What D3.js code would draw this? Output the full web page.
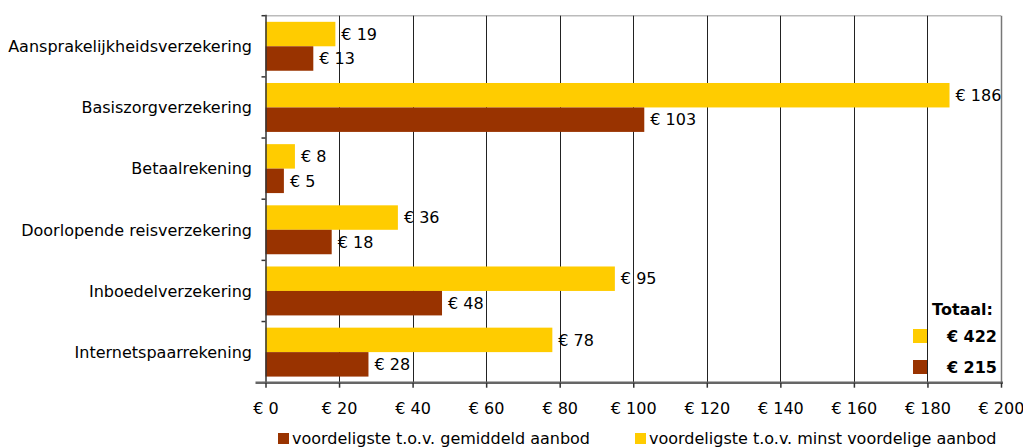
<!DOCTYPE html>
<html><head><meta charset="utf-8">
<script src="https://cdn.jsdelivr.net/npm/d3@7"></script>
<style>
body{margin:0;background:#fff;}
svg text{font-family:"DejaVu Sans",Verdana,sans-serif;fill:#000;}
</style></head>
<body><svg id="c" width="1023" height="448"></svg>
<script>
const categories = ["Aansprakelijkheidsverzekering","Basiszorgverzekering","Betaalrekening","Doorlopende reisverzekering","Inboedelverzekering","Internetspaarrekening"];
const seriesNames = ["voordeligste t.o.v. minst voordelige aanbod","voordeligste t.o.v. gemiddeld aanbod"];
const minstValues = [19,186,8,36,95,78];
const gemiddeldValues = [13,103,5,18,48,28];
const xTicks = [0,20,40,60,80,100,120,140,160,180,200];
const totalsTitle = "Totaal:";
const totals = [422,215];
const colors = ["#FFCC00","#993300"];

const svg = d3.select("#c");
const L=265.5, R=1001, T=15.7, B=382.7;
const x = d3.scaleLinear().domain([0,200]).range([L,R]);
const y0 = d3.scaleBand().domain(categories).range([T,B]).padding(0);
const y1 = d3.scaleBand().domain(seriesNames).range([0,y0.bandwidth()]).paddingInner(0).paddingOuter(0.25);
const eur = v => "€ " + v;
const fs = 16;

// top border
svg.append("line").attr("x1",L).attr("x2",R).attr("y1",T).attr("y2",T).attr("stroke","#bbb").attr("stroke-width",1.5);
// gridlines
svg.selectAll(".grid").data(xTicks.filter(d=>d>0)).enter().append("line")
  .attr("x1",d=>Math.round(x(d))+0.5).attr("x2",d=>Math.round(x(d))+0.5)
  .attr("y1",T).attr("y2",B)
  .attr("stroke",d=>d===200?"#777":"#222").attr("stroke-width",d=>d===200?1.5:1);

const data = categories.map((c,i)=>({c, vals:[minstValues[i],gemiddeldValues[i]]}));
const g = svg.selectAll(".cat").data(data).enter().append("g").attr("transform",d=>`translate(0,${y0(d.c)})`);
g.selectAll("rect").data(d=>d.vals.map((v,j)=>({v,s:seriesNames[j],j}))).enter().append("rect")
  .attr("x",x(0)).attr("y",d=>y1(d.s)).attr("width",d=>x(d.v)-x(0)).attr("height",y1.bandwidth())
  .attr("fill",d=>colors[d.j]);
g.selectAll("text.val").data(d=>d.vals.map((v,j)=>({v,s:seriesNames[j],j}))).enter().append("text")
  .attr("class","val").attr("x",d=>x(d.v)+6).attr("y",d=>y1(d.s)+y1.bandwidth()/2).attr("dy","0.36em")
  .attr("font-size",fs).text(d=>eur(d.v));

// category labels
svg.selectAll(".clab").data(categories).enter().append("text")
  .attr("x",252).attr("y",d=>y0(d)+y0.bandwidth()/2).attr("dy","0.36em").attr("text-anchor","end")
  .attr("font-size",fs).attr("fill","#111").text(d=>d);

// y axis
svg.append("line").attr("x1",L+0.5).attr("x2",L+0.5).attr("y1",T-1).attr("y2",B).attr("stroke","#333").attr("stroke-width",1.5);
const bounds = categories.map(c=>y0(c)).concat([B]);
svg.selectAll(".ytick").data(bounds).enter().append("line")
  .attr("x1",L-4).attr("x2",L).attr("y1",d=>d).attr("y2",d=>d).attr("stroke","#333").attr("stroke-width",1.5);

// x axis
const xa = svg.append("g").attr("transform",`translate(0,${B})`)
  .call(d3.axisBottom(x).tickValues(xTicks).tickFormat(eur).tickSize(5).tickPadding(15));
xa.select(".domain").attr("stroke","#666").attr("stroke-width",2.5).attr("d",`M${L-10},0H${R+2}`);
xa.selectAll(".tick line").attr("stroke","#333").attr("stroke-width",1.5);
xa.selectAll(".tick text").attr("font-size",fs).attr("font-family","DejaVu Sans, Verdana, sans-serif").attr("fill","#111");

// totals box
svg.append("text").attr("x",993).attr("y",315).attr("text-anchor","end").attr("font-size",fs).attr("font-weight","bold").text(totalsTitle);
const ty = [336,367];
totals.forEach((t,i)=>{
  svg.append("rect").attr("x",913).attr("y",ty[i]-7).attr("width",14).attr("height",14).attr("fill",colors[i]);
  svg.append("text").attr("x",997).attr("y",ty[i]).attr("dy","0.36em").attr("text-anchor","end").attr("font-size",fs).attr("font-weight","bold").text(eur(t));
});

// legend
const leg = [{name:seriesNames[1],c:colors[1],x:278},{name:seriesNames[0],c:colors[0],x:635}];
leg.forEach(l=>{
  svg.append("rect").attr("x",l.x).attr("y",433).attr("width",11).attr("height",11).attr("fill",l.c);
  svg.append("text").attr("x",l.x+14).attr("y",444).attr("font-size",fs).attr("fill","#111").text(l.name);
});
</script></body></html>
